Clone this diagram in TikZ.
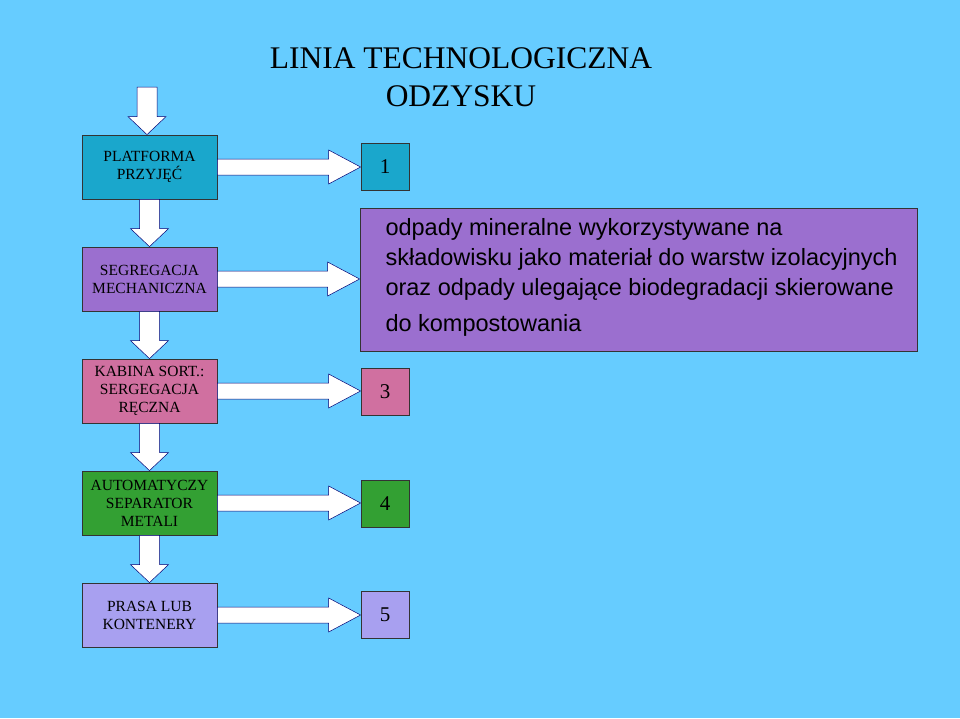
\documentclass[tikz,border=0pt]{standalone}
\usepackage{fontspec}
\setmainfont{Liberation Serif}
\newfontfamily\arialf{Liberation Sans}
\usetikzlibrary{calc}
\definecolor{bg}{HTML}{66CCFF}
\definecolor{cA}{HTML}{1AA7CC}
\definecolor{cB}{HTML}{9B6FCF}
\definecolor{cC}{HTML}{D070A0}
\definecolor{cD}{HTML}{33A033}
\definecolor{cE}{HTML}{A8A0F0}
\tikzset{
 stage/.style={draw=black!80,line width=0.8pt,minimum width=135pt,minimum height=64pt,inner sep=0pt,align=center,font=\fontsize{15.5}{18}\selectfont},
 num/.style={draw=black!80,line width=0.8pt,minimum width=48pt,minimum height=47pt,inner sep=0pt,font=\fontsize{21}{24}\selectfont},
 fat/.style={fill=white,draw=blue!45!black,line width=0.5pt,line join=miter}
}
\newcommand{\downarr}[2]{%
 \draw[fat] let \p1=(#1), \p2=(#2) in
  (\x1-10pt,\y1) -- (\x1+10pt,\y1) -- (\x1+10pt,\y2+18pt) -- (\x1+19pt,\y2+18pt) -- (\x1,\y2) -- (\x1-19pt,\y2+18pt) -- (\x1-10pt,\y2+18pt) -- cycle;}
\newcommand{\rightarr}[2]{%
 \draw[fat] let \p1=(#1), \p2=(#2) in
  (\x1,\y1+8pt) -- (\x2-32pt,\y1+8pt) -- (\x2-32pt,\y1+17pt) -- (\x2,\y1) -- (\x2-32pt,\y1-17pt) -- (\x2-32pt,\y1-8pt) -- (\x1,\y1-8pt) -- cycle;}
\begin{document}
\begin{tikzpicture}[x=1pt,y=-1pt]
\fill[bg] (0,0) rectangle (960,718);
\useasboundingbox (0,0) rectangle (960,718);
\node[font=\fontsize{31.5}{38}\selectfont,align=center] (title) at (461,77) {LINIA TECHNOLOGICZNA\\ODZYSKU};
\node[stage,fill=cA] (s1) at (149.5,167) {PLATFORMA\\PRZYJĘĆ};
\node[stage,fill=cB] (s2) at (149.5,279) {SEGREGACJA\\MECHANICZNA};
\node[stage,fill=cC] (s3) at (149.5,391) {KABINA SORT.:\\SERGEGACJA\\RĘCZNA};
\node[stage,fill=cD] (s4) at (149.5,503) {AUTOMATYCZY\\SEPARATOR\\METALI};
\node[stage,fill=cE] (s5) at (149.5,615) {PRASA LUB\\KONTENERY};
\node[num,fill=cA] (n1) at (385,166.5) {1};
\node[draw=black!80,line width=0.8pt,fill=cB,minimum width=557pt,minimum height=143pt,inner sep=0pt] (n2) at (638.5,279.5) {};
\node[anchor=north west,align=left,font=\arialf\fontsize{23.5}{30}\selectfont] (t2) at (382,215) {odpady mineralne wykorzystywane na\\składowisku jako materiał do warstw izolacyjnych\\oraz odpady ulegające biodegradacji skierowane\\[6pt]do kompostowania};
\node[num,fill=cC] (n3) at (385,391.5) {3};
\node[num,fill=cD] (n4) at (385,503.5) {4};
\node[num,fill=cE] (n5) at (385,614.5) {5};
\coordinate (top) at (147,87);
\downarr{top}{s1.north}
\downarr{s1.south}{s2.north}
\downarr{s2.south}{s3.north}
\downarr{s3.south}{s4.north}
\downarr{s4.south}{s5.north}
\rightarr{s1.east}{n1.west}
\rightarr{s2.east}{n2.west}
\rightarr{s3.east}{n3.west}
\rightarr{s4.east}{n4.west}
\rightarr{s5.east}{n5.west}
\end{tikzpicture}
\end{document}
